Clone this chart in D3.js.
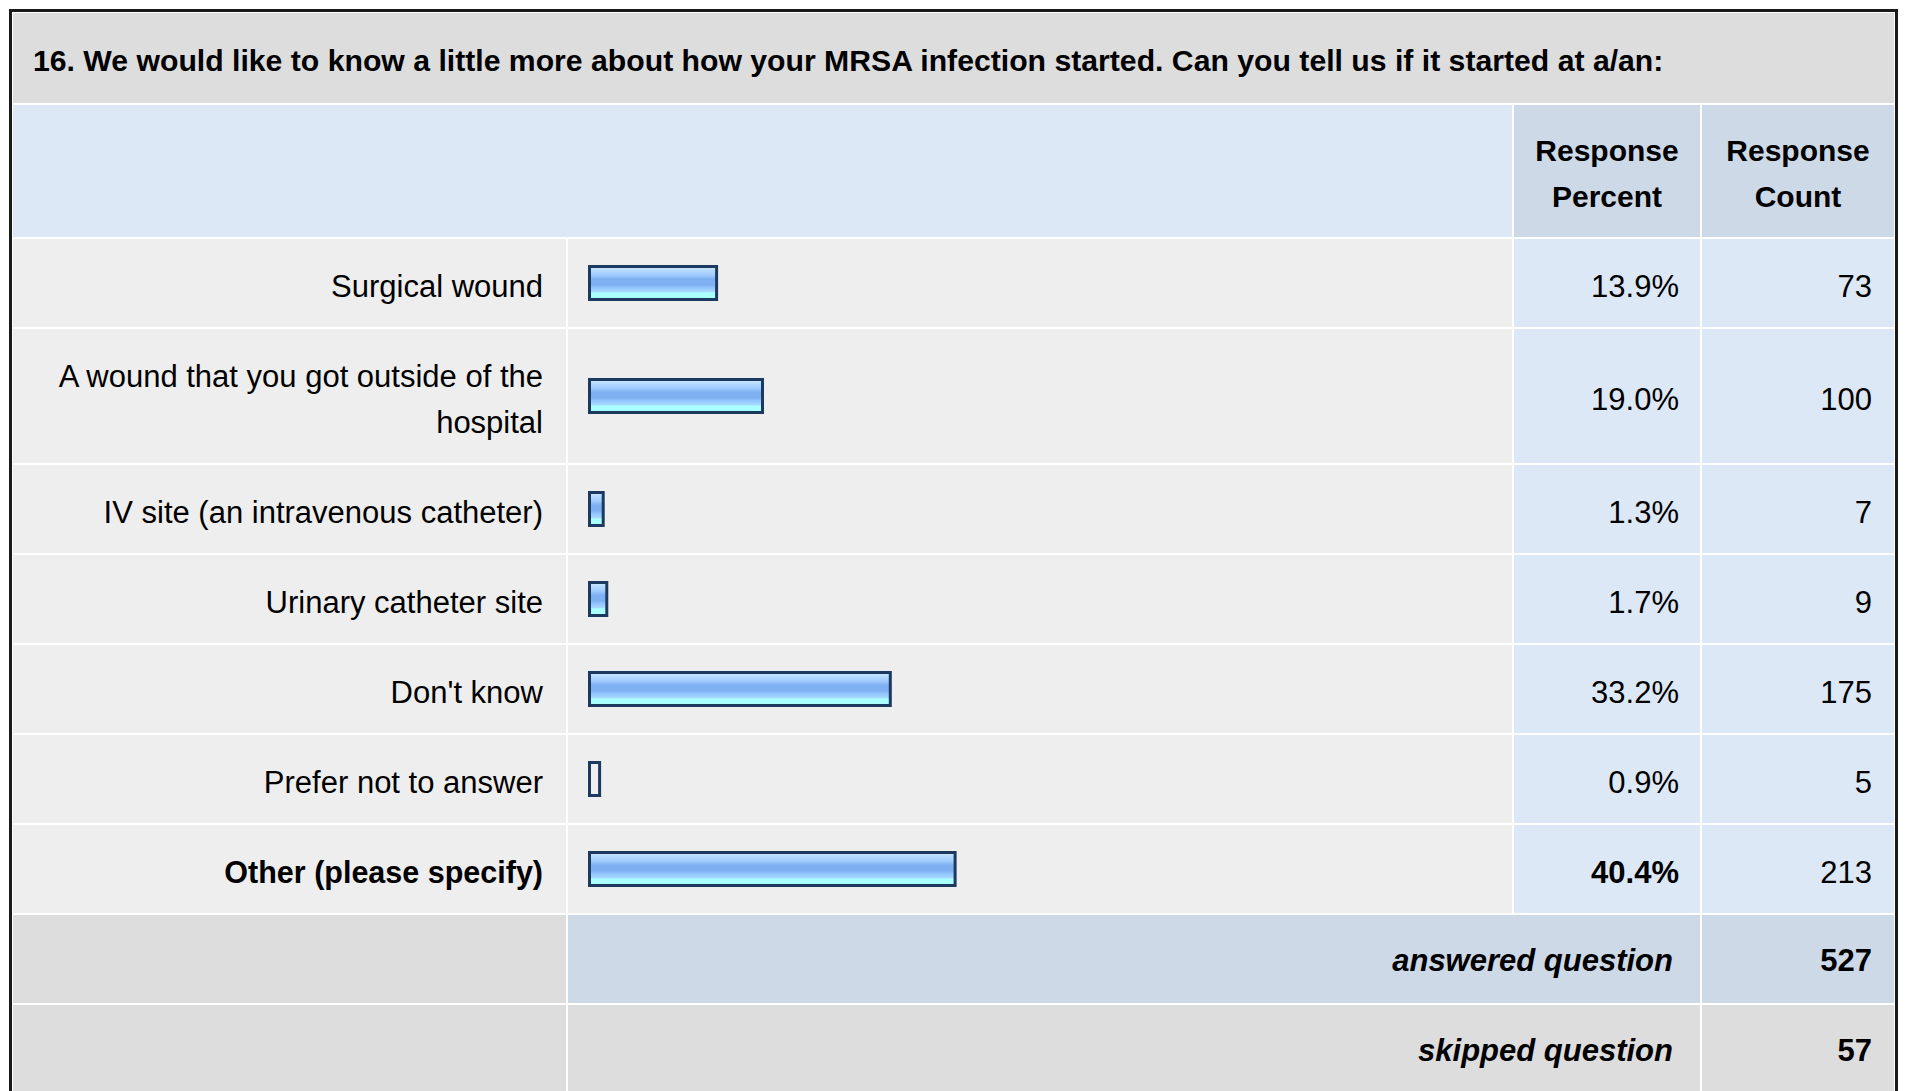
<!DOCTYPE html>
<html lang="en">
	<head>
		<meta charset="UTF-8"/>
		<title>MRSA infection start</title>
		<script type="text/javascript" src="https://cdn.jsdelivr.net/npm/d3@7"></script>
		<style>
			body { margin: 0; background: #fff; }
			text { font-family: "Liberation Sans", Arial, Helvetica, sans-serif; fill: #000; }
		</style>
	</head>
	<body>
		<script type="text/javascript">
			var title = "16. We would like to know a little more about how your MRSA infection started. Can you tell us if it started at a/an:";
			var headers = [["Response", "Percent"], ["Response", "Count"]];
			var categories = [
				"Surgical wound",
				"A wound that you got outside of the hospital",
				"IV site (an intravenous catheter)",
				"Urinary catheter site",
				"Don't know",
				"Prefer not to answer",
				"Other (please specify)"
			];
			var percents = [13.9, 19.0, 1.3, 1.7, 33.2, 0.9, 40.4];
			var counts = [73, 100, 7, 9, 175, 5, 213];
			var boldRows = ["Other (please specify)"];
			var summaryLabels = ["answered question", "skipped question"];
			var summaryValues = [527, 57];

			var w = 1907;
			var h = 1091;
			var cols = [12, 567, 1513, 1701, 1895];
			var titleTop = 12, headTop = 104, bodyTop = 238;
			var lineH = 46;
			var fs = 31;

			var svg = d3.select("body")
				.append("svg")
				.attr("width", w)
				.attr("height", h);

			var defs = svg.append("defs");
			var grad = defs.append("linearGradient")
				.attr("id", "barGrad")
				.attr("x1", 0).attr("y1", 0).attr("x2", 0).attr("y2", 1);
			[[0, "#cfe6ff"], [0.12, "#b6dbff"], [0.26, "#9fcbff"], [0.38, "#7fb1f2"], [0.56, "#7fb1f2"],
			 [0.64, "#92c5ff"], [0.76, "#a6d8ff"], [0.8, "#aaffff"], [1, "#aaffff"]].forEach(function(s) {
				grad.append("stop").attr("offset", s[0]).attr("stop-color", s[1]);
			});

			function cell(x0, x1, y0, y1, fill) {
				svg.append("rect")
					.attr("x", x0 + 1)
					.attr("y", y0 + 1)
					.attr("width", x1 - x0 - 2)
					.attr("height", y1 - y0 - 2)
					.attr("fill", fill);
			}

			// wrap labels to the label column
			var measure = svg.append("text").attr("font-size", fs);
			function wrap(str, maxW) {
				var words = str.split(" "), lines = [], line = "";
				words.forEach(function(word) {
					var test = line ? line + " " + word : word;
					measure.text(test);
					if (measure.node().getComputedTextLength() > maxW && line) {
						lines.push(line);
						line = word;
					} else {
						line = test;
					}
				});
				lines.push(line);
				return lines;
			}
			var labelLines = categories.map(function(c) { return wrap(c, 505); });
			measure.remove();

			// row positions
			var rowTops = [];
			var y = bodyTop;
			labelLines.forEach(function(l) {
				rowTops.push(y);
				y += 44 + lineH * l.length;
			});
			var bodyBottom = y;

			// title band
			cell(cols[0], cols[4], titleTop, headTop, "#dddddd");
			svg.append("text")
				.attr("x", 33)
				.attr("y", (titleTop + headTop) / 2 + 13)
				.attr("font-size", 30.2)
				.attr("font-weight", "bold")
				.text(title);

			// header
			cell(cols[0], cols[2], headTop, bodyTop, "#dce8f5");
			headers.forEach(function(hd, i) {
				cell(cols[i + 2], cols[i + 3], headTop, bodyTop, "#cdd9e6");
				var t = svg.append("text")
					.attr("text-anchor", "middle")
					.attr("font-size", 30)
					.attr("font-weight", "bold");
				hd.forEach(function(line, j) {
					t.append("tspan")
						.attr("x", (cols[i + 2] + cols[i + 3]) / 2)
						.attr("y", (headTop + bodyTop) / 2 - lineH / 2 + 13 + j * lineH)
						.text(line);
				});
			});

			var barX = 589.5;
			var xScale = d3.scaleLinear()
				.domain([0, 100])
				.range([0, 900]);
			var barH = 33;

			categories.forEach(function(c, i) {
				var top = rowTops[i];
				var bot = i < categories.length - 1 ? rowTops[i + 1] : bodyBottom;
				var mid = (top + bot) / 2;
				var bold = boldRows.indexOf(c) >= 0;
				cell(cols[0], cols[1], top, bot, "#eeeeee");
				cell(cols[1], cols[2], top, bot, "#eeeeee");
				cell(cols[2], cols[3], top, bot, "#dce8f5");
				cell(cols[3], cols[4], top, bot, "#dce8f5");

				var lines = labelLines[i];
				var t = svg.append("text")
					.attr("text-anchor", "end")
					.attr("font-size", bold ? 30.5 : fs)
					.attr("font-weight", bold ? "bold" : "normal");
				lines.forEach(function(line, j) {
					t.append("tspan")
						.attr("x", cols[1] - 24)
						.attr("y", mid - (lines.length - 1) * lineH / 2 + 14 + j * lineH)
						.text(line);
				});

				// under 1% the bar image is empty, only its frame shows
				svg.append("rect")
					.attr("x", barX)
					.attr("y", mid - barH / 2)
					.attr("width", xScale(percents[i]) + 2)
					.attr("height", barH)
					.attr("fill", percents[i] < 1 ? "#eeeeee" : "url(#barGrad)")
					.attr("stroke", "#1c3a60")
					.attr("stroke-width", 3);

				svg.append("text")
					.attr("x", cols[3] - 22)
					.attr("y", mid + 14)
					.attr("text-anchor", "end")
					.attr("font-size", fs)
					.attr("font-weight", bold ? "bold" : "normal")
					.text(percents[i].toFixed(1) + "%");

				svg.append("text")
					.attr("x", cols[4] - 23)
					.attr("y", mid + 14)
					.attr("text-anchor", "end")
					.attr("font-size", fs)
					.text(counts[i]);
			});

			// summary rows
			summaryLabels.forEach(function(s, i) {
				var top = bodyBottom + i * 90;
				var bot = top + 90;
				var fill = i === 0 ? "#cdd9e6" : "#dddddd";
				cell(cols[0], cols[1], top, bot, "#dddddd");
				cell(cols[1], cols[3], top, bot, fill);
				cell(cols[3], cols[4], top, bot, fill);
				svg.append("text")
					.attr("x", cols[3] - 28)
					.attr("y", (top + bot) / 2 + 12)
					.attr("text-anchor", "end")
					.attr("font-size", fs)
					.attr("font-weight", "bold")
					.attr("font-style", "italic")
					.text(s);
				svg.append("text")
					.attr("x", cols[4] - 23)
					.attr("y", (top + bot) / 2 + 12)
					.attr("text-anchor", "end")
					.attr("font-size", fs)
					.attr("font-weight", "bold")
					.text(summaryValues[i]);
			});

			// outer frame
			svg.append("path")
				.attr("d", "M" + (cols[0] - 1.5) + "," + h + "V" + (titleTop - 1.5) + "H" + (cols[4] + 1.5) + "V" + h)
				.attr("fill", "none")
				.attr("stroke", "#1a1a1a")
				.attr("stroke-width", 3);
		</script>
	</body>
</html>
